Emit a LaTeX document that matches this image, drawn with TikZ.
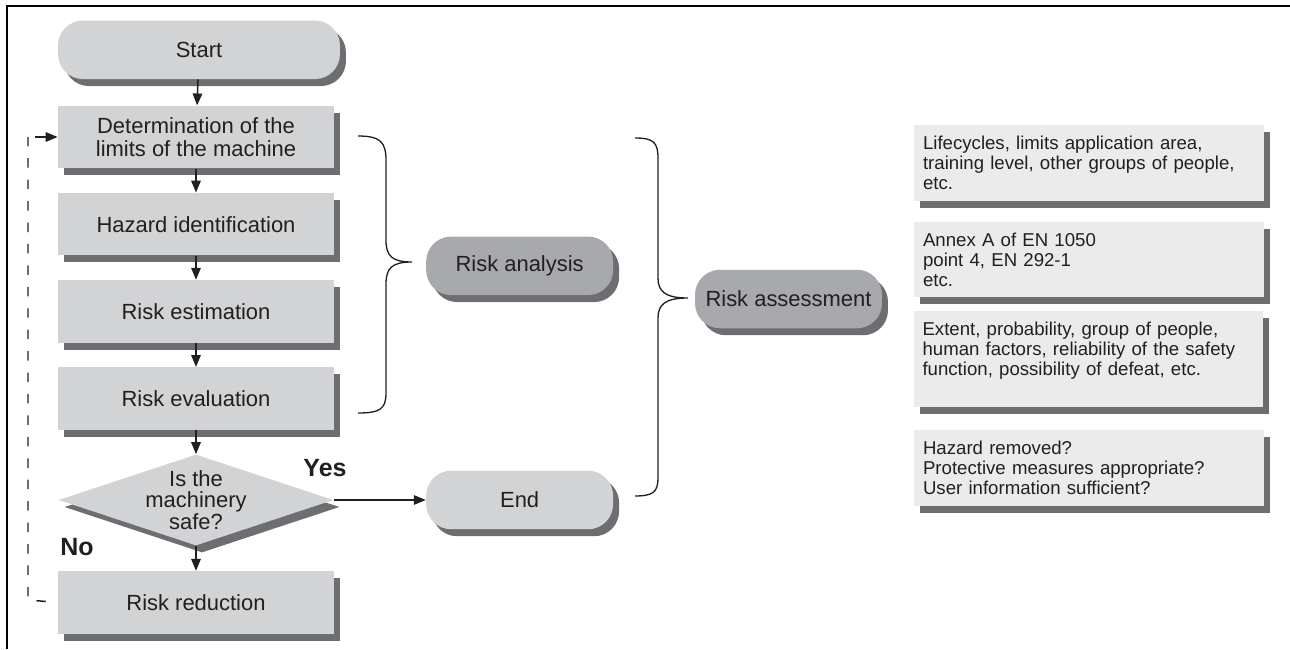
\documentclass[tikz,border=0pt]{standalone}
\usepackage{fontspec}
\setmainfont{Liberation Sans}
\usepackage{xcolor}
\usepackage{tikz}
\usetikzlibrary{arrows.meta,positioning,shapes.geometric,shadows}
\definecolor{boxgray}{RGB}{209,211,212}
\definecolor{pillgray}{RGB}{167,169,172}
\definecolor{shadegray}{RGB}{109,110,113}
\definecolor{notegray}{RGB}{235,235,236}
\definecolor{inkdark}{RGB}{35,31,32}
\tikzset{
    boxshadow/.style={
        drop shadow={shadow xshift=0.12cm, shadow yshift=-0.14cm, fill=shadegray, opacity=1}
    },
    flowbase/.style={
        rectangle,
        inner sep=0pt,
        align=center,
        text=inkdark,
        font=\fontsize{12.5}{13.1}\selectfont,
        boxshadow
    },
    stepbox/.style={flowbase, fill=boxgray, minimum width=5.52cm, minimum height=1.25cm},
    pillbox/.style={flowbase, fill=boxgray, rounded corners=0.5cm, minimum width=3.74cm, minimum height=1.17cm},
    darkpill/.style={pillbox, fill=pillgray},
    decision/.style={diamond, fill=boxgray, minimum width=5.5cm, minimum height=1.82cm, inner sep=0pt, boxshadow},
    decisiontext/.style={align=center, inner sep=0pt, text=inkdark, font=\fontsize{12.5}{12.4}\selectfont},
    notebox/.style={
        rectangle,
        fill=notegray,
        text=inkdark,
        minimum width=7cm,
        minimum height=1.52cm,
        text width=6.64cm,
        inner xsep=0.18cm,
        align=left,
        font=\fontsize{10.6}{11.4}\selectfont,
        boxshadow
    },
    answerlabel/.style={inner sep=0pt, text=inkdark, font=\fontsize{14.2}{15}\selectfont\bfseries},
    flow/.style={-{Triangle[length=6.8pt,width=5.4pt]}, line width=0.85pt, draw=inkdark},
    loopline/.style={line width=0.85pt, draw=inkdark, dash pattern=on 5.4pt off 6.8pt, dash phase=5.4pt},
    bracepath/.style={line width=0.75pt, draw=inkdark},
    frameline/.style={line width=0.8pt, draw=black},
}

\begin{document}
\begin{tikzpicture}[x=0.02cm, y=-0.02cm]
    \useasboundingbox (0,0) rectangle (1290,649);
    \draw[frameline] (1290,6) -- (7,6) -- (7,649);

    % Main column
    \node[stepbox] (limits) at (196,137) {Determination of the\\limits of the machine};
    \node[pillbox, minimum width=5.64cm, above=0.52cm of limits.north west, anchor=south west] (start) {Start};
    \node[stepbox, below=0.48cm of limits] (hazard) {Hazard identification};
    \node[stepbox, below=0.48cm of hazard] (estimate) {Risk estimation};
    \node[stepbox, below=0.48cm of estimate] (evaluate) {Risk evaluation};
    \node[decision, below=0.48cm of evaluate] (safe) {};
    \node[decisiontext] (safetext) at (safe) {Is the\\machinery\\safe?};
    \node[stepbox, below=0.5cm of safe] (reduce) {Risk reduction};

    % Grouping pills
    \node[pillbox, right=1.84cm of safe] (finish) {End};
    \node[darkpill, above=3.5cm of finish] (analysis) {Risk analysis};
    \node[darkpill] (assess) at (788.5,299) {Risk assessment};

    % Notes on the right
    \node[notebox] (notelimits) at (1089,163) {Lifecycles, limits application area,\\training level, other groups of people,\\etc.};
    \node[notebox] (notehazard) at (1089,259.5) {Annex A of EN 1050\\point 4, EN 292-1\\etc.};
    \node[notebox, minimum height=1.92cm] (noteestimate) at (1088.5,359) {Extent, probability, group of people,\\human factors, reliability of the safety\\function, possibility of defeat, etc.\\\mbox{}};
    \node[notebox] (noteevaluate) at (1089,468) {Hazard removed?\\Protective measures appropriate?\\User information sufficient?};

    % Answers
    \node[answerlabel] (yeslabel) at (325,468) {Yes};
    \node[answerlabel] (nolabel) at (77,547) {No};

    % Sequential edges
    \draw[flow] (start) -- (limits);
    \draw[flow] (limits) -- (hazard);
    \draw[flow] (hazard) -- (estimate);
    \draw[flow] (estimate) -- (evaluate);
    \draw[flow] (evaluate) -- (safe);
    \draw[flow] (safe) -- (reduce);
    \draw[flow] (safe.east) -- (finish.west);

    % Loop back from risk reduction
    \coordinate (loopbot) at (28,600);
    \coordinate (looptop) at (28,137);
    \coordinate (loopin) at (35,137);
    \draw[loopline] (reduce.west) -- (loopbot) -- (looptop);
    \draw[flow] (loopin) -- (limits.west);

    % Braces
    \draw[bracepath] (358,136) .. controls (380,136) and (386,142) .. (386,160) -- (386,240)
        .. controls (386,256) and (392,262) .. (412,262) .. controls (392,262) and (386,268) .. (386,284)
        -- (386,393) .. controls (386,409) and (380,413) .. (358,413);
    \draw[bracepath] (635,138) .. controls (653,138) and (658,142) .. (658,158) -- (658,278)
        .. controls (658,292) and (666,298) .. (688,298) .. controls (666,298) and (658,304) .. (658,318)
        -- (658,478) .. controls (658,492) and (653,496) .. (635,496);
\end{tikzpicture}
\end{document}
